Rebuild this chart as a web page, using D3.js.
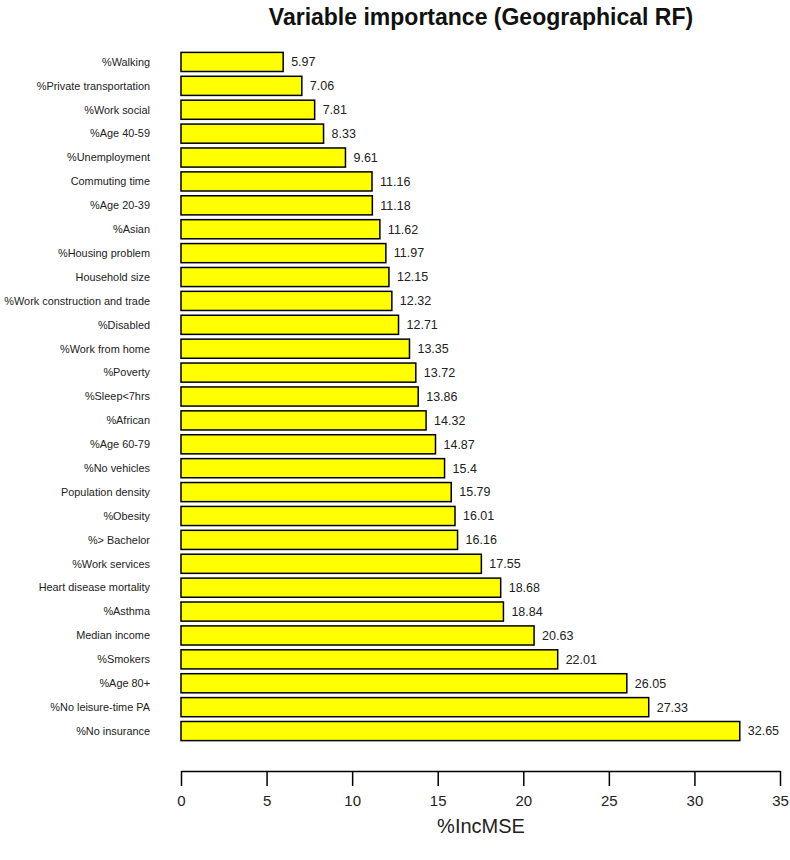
<!DOCTYPE html>
<html><head><meta charset="utf-8">
<script src="https://cdn.jsdelivr.net/npm/d3@7"></script>
<style>body{margin:0;background:#fff;} text{font-family:"Liberation Sans",Arial,sans-serif;}</style>
</head><body>
<svg id="c" width="790" height="860"></svg>
<script>
const categories = ["%Walking","%Private transportation","%Work social","%Age 40-59","%Unemployment","Commuting time","%Age 20-39","%Asian","%Housing problem","Household size","%Work construction and trade","%Disabled","%Work from home","%Poverty","%Sleep<7hrs","%African","%Age 60-79","%No vehicles","Population density","%Obesity","%> Bachelor","%Work services","Heart disease mortality","%Asthma","Median income","%Smokers","%Age 80+","%No leisure-time PA","%No insurance"];
const values = [5.97,7.06,7.81,8.33,9.61,11.16,11.18,11.62,11.97,12.15,12.32,12.71,13.35,13.72,13.86,14.32,14.87,15.4,15.79,16.01,16.16,17.55,18.68,18.84,20.63,22.01,26.05,27.33,32.65];
const valueLabels = ["5.97","7.06","7.81","8.33","9.61","11.16","11.18","11.62","11.97","12.15","12.32","12.71","13.35","13.72","13.86","14.32","14.87","15.4","15.79","16.01","16.16","17.55","18.68","18.84","20.63","22.01","26.05","27.33","32.65"];
const xTicks = [0,5,10,15,20,25,30,35];

const svg = d3.select("#c");
const x = d3.scaleLinear().domain([0,35]).range([181,780]);
const y = d3.scaleBand().domain(categories).range([50,743]).paddingInner(0.2).paddingOuter(0.1);

svg.append("text").attr("x",481).attr("y",25).attr("text-anchor","middle")
  .attr("font-size",23).attr("font-weight","bold").attr("fill","#111").text("Variable importance (Geographical RF)");

const g = svg.append("g");
g.selectAll("rect").data(categories).join("rect")
  .attr("x",x(0)).attr("y",d=>y(d)).attr("width",(d,i)=>x(values[i])-x(0)).attr("height",y.bandwidth())
  .attr("fill","#ffff00").attr("stroke","#000").attr("stroke-width",1.5);

g.selectAll("text.cat").data(categories).join("text").attr("class","cat")
  .attr("x",150).attr("y",d=>y(d)+y.bandwidth()/2).attr("dy","0.35em").attr("text-anchor","end")
  .attr("font-size",10.9).attr("fill","#222").text(d=>d);

g.selectAll("text.val").data(categories).join("text").attr("class","val")
  .attr("x",(d,i)=>x(values[i])+8).attr("y",d=>y(d)+y.bandwidth()/2).attr("dy","0.35em")
  .attr("font-size",12.5).attr("fill","#222").text((d,i)=>valueLabels[i]);

const ax = svg.append("g").attr("transform","translate(0,771)")
  .call(d3.axisBottom(x).tickValues(xTicks).tickSize(15).tickPadding(9).tickSizeOuter(0));
ax.select(".domain").attr("stroke","#000").attr("stroke-width",1.5);
ax.selectAll(".tick line").attr("stroke","#000").attr("stroke-width",1.5);
ax.selectAll(".tick text").attr("font-size",15).attr("fill","#222").style("font-family","Liberation Sans, Arial, sans-serif");

svg.append("text").attr("x",481).attr("y",833).attr("text-anchor","middle")
  .attr("font-size",20).attr("fill","#222").text("%IncMSE");
</script>
</body></html>
